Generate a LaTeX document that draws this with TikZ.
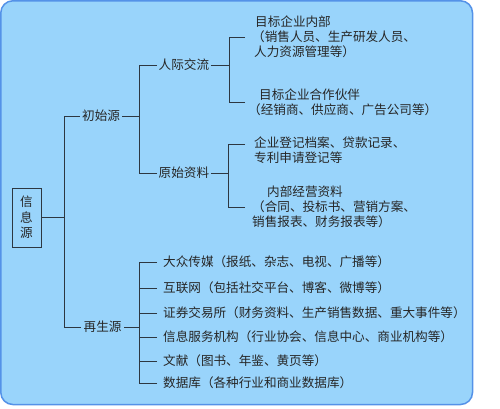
\documentclass[tikz,border=0pt]{standalone}
\usepackage{fontspec}
\newfontfamily\cjk{Noto Sans CJK SC}
\usetikzlibrary{positioning}
\definecolor{panelblue}{RGB}{153,212,251}
\definecolor{paneledge}{RGB}{84,146,232}
\definecolor{linkgray}{RGB}{45,55,65}

\begin{document}
\begin{tikzpicture}[
  x=1pt, y=-1pt,
  txt/.style={font=\cjk\fontsize{12.6}{15}\selectfont, text=black!85,
              inner ysep=1pt, inner xsep=1.5pt, anchor=west, align=left},
  leaf/.style={txt, inner xsep=7pt},
  link/.style={draw=linkgray, line width=0.9pt},
  rootbox/.style={draw=linkgray, line width=0.9pt, inner sep=0pt,
                  minimum width=29pt, minimum height=59pt, align=center,
                  font=\cjk\fontsize{12.6}{15.5}\selectfont, text=black!85}
]
% Panel
\useasboundingbox (0,0) rectangle (500,409);
\draw[fill=panelblue, draw=paneledge, line width=1.5pt, rounded corners=12pt]
  (0.8,0.8) rectangle (472.5,404.5);

% Root
\node[rootbox] (src) at (26.5,217.5) {信\\息\\源};

% First level
\node[txt, inner xsep=2pt]   (chu) at (80,116) {初始源};
\node[txt, inner xsep=2.5pt] (zai) at (81,327) {再生源};

% Initial sources
\node[txt] (rl) at (157,65)  {人际交流};
\node[txt] (ys) at (157,173) {原始资料};

\node[leaf] (ma) at (245,37)  {\hspace{3pt}目标企业内部\\（销售人员、生产研发人员、\\\hspace{2pt}人力资源管理等）};
\node[leaf, inner xsep=3pt] (mb) at (245,102) {\hspace{11pt}目标企业合作伙伴\\（经销商、供应商、广告公司等）};
\node[leaf, inner xsep=9pt] (mc) at (245,150) {企业登记档案、贷款记录、\\专利申请登记等};
\node[leaf] (md) at (245,207) {\hspace{15pt}内部经营资料\\（合同、投标书、营销方案、\\销售报表、财务报表等）};

% Secondary sources
\node[leaf, inner xsep=6pt] (z1) at (157,262) {大众传媒（报纸、杂志、电视、广播等）};
\node[leaf, inner xsep=6pt] (z2) at (157,288) {互联网（包括社交平台、博客、微博等）};
\node[leaf, inner xsep=6pt] (z3) at (157,313) {证券交易所（财务资料、生产销售数据、重大事件等）};
\node[leaf, inner xsep=6pt] (z4) at (157,337) {信息服务机构（行业协会、信息中心、商业机构等）};
\node[leaf, inner xsep=6pt] (z5) at (157,361) {文献（图书、年鉴、黄页等）};
\node[leaf, inner xsep=6pt] (z6) at (157,383) {数据库（各种行业和商业数据库）};

% Fork points
\coordinate (f1) at (64,217.5);
\coordinate (f2) at (139,116);
\coordinate (f3) at (229,65);
\coordinate (f4) at (228,173);
\coordinate (f5) at (139,327);

% Brackets
\draw[link] (src.east) -- (f1);
\draw[link] (chu.west) -| (f1);
\draw[link] (zai.west) -| (f1);

\draw[link] (chu.east) -- (f2);
\draw[link] (rl.west) -| (f2);
\draw[link] (ys.west) -| (f2);

\draw[link] (rl.east) -- (f3);
\draw[link] (ma.west) -| (f3);
\draw[link] (mb.west) -| (f3);

\draw[link] (ys.east) -- (f4);
\draw[link] ([yshift=6pt]mc.west) -| (f4);
\draw[link] (md.west) -| (f4);

\draw[link] (zai.east) -- (f5);
\draw[link] (z1.west) -| (f5);
\draw[link] (z2.west) -| (f5);
\draw[link] (z3.west) -| (f5);
\draw[link] (z4.west) -| (f5);
\draw[link] (z5.west) -| (f5);
\draw[link] (z6.west) -| (f5);
\end{tikzpicture}
\end{document}
